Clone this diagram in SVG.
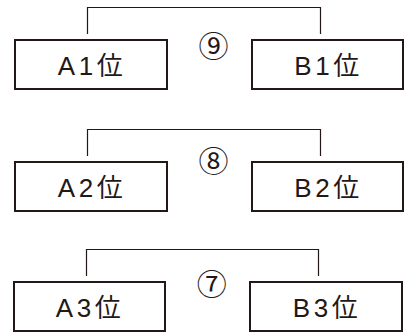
<svg xmlns="http://www.w3.org/2000/svg" width="405" height="334" viewBox="0 0 405 334">
<style>
.box{fill:#fff;stroke:#231815;stroke-width:2}
.lbl{font-family:"Liberation Sans","Noto Sans CJK JP",sans-serif;font-size:26px;fill:#231815;text-anchor:middle;letter-spacing:3.5px}
.num{font-family:"Noto Sans CJK JP",sans-serif;font-size:30px;fill:#231815;text-anchor:middle}
.conn{fill:none;stroke:#231815;stroke-width:1.2}
</style>
<rect width="405" height="334" fill="#fff"/>
<g id="connectors">
<path class="conn" d="M87.5 34V7.5H320.5V34"/>
<path class="conn" d="M87.5 156V129.5H320.5V156"/>
<path class="conn" d="M86.5 276V249.5H318.5V276"/>
</g>
<g id="A1"><rect class="box" x="15" y="40" width="152" height="49"/><text class="lbl" x="92" y="75">A1位</text></g>
<g id="B1"><rect class="box" x="252" y="40" width="151" height="49"/><text class="lbl" x="328.5" y="75">B1位</text></g>
<g id="m9"><text class="num" x="213.5" y="57">⑨</text></g>
<g id="A2"><rect class="box" x="15" y="162" width="152" height="49"/><text class="lbl" x="92" y="197">A2位</text></g>
<g id="B2"><rect class="box" x="252" y="162" width="151" height="49"/><text class="lbl" x="328.5" y="197">B2位</text></g>
<g id="m8"><text class="num" x="213.5" y="172">⑧</text></g>
<g id="A3"><rect class="box" x="14" y="282" width="151" height="49"/><text class="lbl" x="90" y="317">A3位</text></g>
<g id="B3"><rect class="box" x="250" y="282" width="152" height="49"/><text class="lbl" x="327" y="317">B3位</text></g>
<g id="m7"><text class="num" x="211.7" y="295">⑦</text></g>
</svg>
